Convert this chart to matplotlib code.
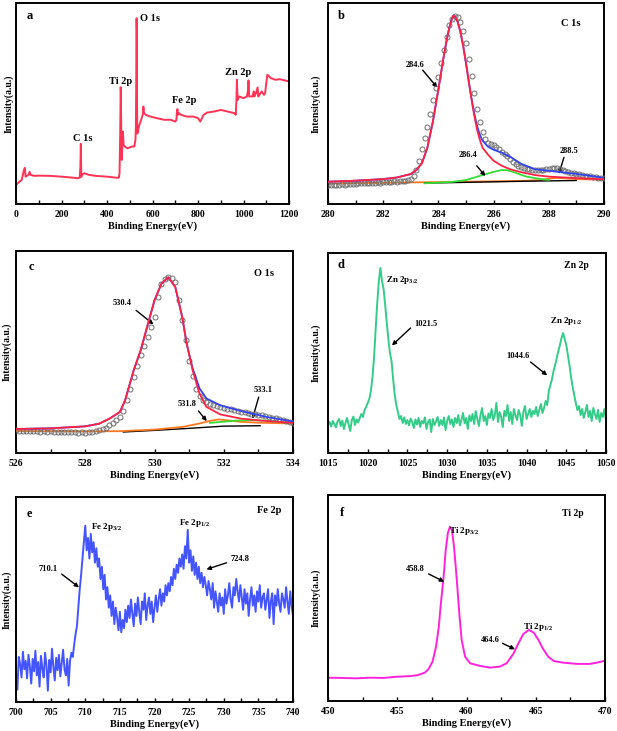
import numpy as np
import matplotlib
matplotlib.use("Agg")
import matplotlib.pyplot as plt
from matplotlib.ticker import MultipleLocator

plt.rcParams['font.family'] = ['Liberation Serif', 'DejaVu Serif']
plt.rcParams['font.weight'] = 'bold'
plt.rcParams['mathtext.fontset'] = 'custom'
plt.rcParams['mathtext.rm'] = 'Liberation Serif:bold'
plt.rcParams['mathtext.bf'] = 'Liberation Serif:bold'

# ---------------- (a) survey ----------------
survey_be = [0, 10, 25, 35, 39, 42, 55, 60, 64, 80, 100, 150, 200, 250, 270, 280, 283, 285, 287, 290,
             300, 320, 350, 400, 440, 452, 455, 458, 459, 460, 461, 463, 465, 467, 470, 473, 478, 490,
             510, 520, 525, 527, 529, 530, 531, 532, 533, 536, 540, 550, 557, 560, 563, 570, 590, 620,
             650, 680, 700, 705, 708, 710, 712, 716, 725, 750, 780, 800, 810, 825, 840, 870, 900, 930,
             960, 966, 969, 971, 973, 975, 980, 1000, 1015, 1020, 1022, 1025, 1040, 1045, 1048, 1055,
             1062, 1065, 1070, 1080, 1090, 1095, 1100, 1105, 1110, 1120, 1140, 1160, 1180, 1200]
survey_int = [9.5, 10.6, 12.0, 17.0, 18.0, 13.6, 14.5, 16.0, 14.5, 14.0, 14.1, 14.0, 13.6, 13.1, 12.8,
              13.1, 18.6, 29.9, 13.5, 14.5, 15.3, 14.5, 14.0, 13.6, 13.1, 13.1, 15.3, 35.0, 45.0, 58.1,
              56.0, 31.9, 21.9, 28.6, 36.0, 29.4, 28.6, 27.7, 28.6, 28.6, 31.9, 38.5, 68.4, 92.4, 85.0,
              51.8, 35.0, 35.8, 38.5, 41.9, 44.4, 48.5, 45.2, 44.4, 43.5, 42.7, 41.9, 41.9, 41.0, 41.9,
              46.8, 47.2, 44.4, 45.2, 44.4, 43.5, 43.5, 42.7, 41.0, 44.4, 45.5, 46.0, 46.8, 46.0, 45.2,
              44.4, 51.8, 61.8, 55.1, 51.8, 53.5, 52.7, 53.5, 56.8, 61.5, 53.5, 53.5, 56.0, 53.5, 55.1,
              58.0, 53.5, 54.3, 56.0, 54.3, 55.1, 60.0, 64.3, 63.8, 62.6, 61.8, 62.1, 61.5, 61.0]

# ---------------- (b) C 1s ----------------
c1s_start, c1s_stop = 280.0, 290.0
c1s_raw = [9.5, 9.3, 9.4, 9.6, 9.5, 9.8, 9.7, 9.9, 10.0, 10.1,
           10.0, 10.2, 10.3, 10.2, 10.4, 10.5, 10.4, 10.6, 10.7, 10.6,
           10.8, 10.9, 10.8, 11.0, 11.2, 11.1, 11.3, 11.5, 11.6, 11.8,
           12.5, 14.0, 16.9, 21.5, 27.5, 33.0, 38.5, 45.0, 51.5, 57.5,
           63.0, 70.0, 76.5, 83.0, 89.0, 92.0, 93.5, 93.0, 90.5, 86.0,
           80.0, 72.0, 63.5, 55.0, 47.5, 41.0, 36.0, 32.5, 30.5, 29.8,
           29.5, 28.5, 27.3, 26.0, 25.0, 23.7, 22.2, 20.8, 19.8, 19.0,
           18.4, 17.9, 17.5, 17.2, 17.0, 16.9, 16.8, 16.9, 17.1, 17.3,
           17.5, 17.7, 17.9, 17.8, 17.4, 16.9, 16.4, 16.0, 15.6, 15.3,
           15.0, 14.7, 14.4, 14.1, 13.9, 13.7, 13.5, 13.3, 13.1, 12.9,
           12.7]
c1s_fit_be = [280, 281, 282, 282.5, 283, 283.2, 283.4, 283.6, 283.8, 284.0, 284.1, 284.2, 284.3, 284.4,
              284.5, 284.55, 284.6, 284.7, 284.8, 284.9, 285.0, 285.1, 285.2, 285.3, 285.4, 285.5,
              285.6, 285.8, 286.0, 286.3, 286.6, 287.0, 287.5, 288.0, 289.0, 290.0]
c1s_main = [11.1, 11.6, 12.4, 13.2, 14.9, 16.9, 20.2, 28.0, 41.0, 57.0, 65.5, 74.0, 81.5, 88.0,
            92.5, 93.8, 93.4, 90.5, 85.5, 78.5, 70.0, 61.0, 52.0, 44.0, 37.0, 32.0,
            28.0, 24.5, 21.5, 19.0, 17.3, 15.8, 14.4, 13.6, 12.9, 12.3]
c1s_env = [11.1, 11.6, 12.4, 13.2, 14.9, 16.9, 20.2, 28.0, 41.0, 57.0, 65.5, 74.0, 81.5, 88.0,
           92.5, 93.8, 93.4, 90.5, 85.5, 78.5, 70.0, 61.0, 52.5, 45.0, 39.0, 34.5,
           31.5, 28.5, 27.0, 25.5, 23.5, 20.0, 17.3, 16.5, 15.0, 13.0]
c1s_c2_be = [283.5, 284.5, 285.0, 285.6, 286.0, 286.3, 286.5, 286.7, 287.0, 287.2, 287.7, 288.0]
c1s_c2 = [10.3, 11.0, 11.9, 14.4, 16.0, 16.9, 16.8, 16.0, 14.5, 13.6, 12.4, 12.0]
c1s_c3_be = [280, 284, 287, 287.7, 288.0, 288.3, 288.7, 289.2, 290]
c1s_c3 = [10.2, 10.9, 11.5, 11.9, 12.6, 13.0, 12.7, 12.3, 12.1]
c1s_bg_be = [283.5, 285.5, 287.0, 289.0]
c1s_bg = [10.4, 10.9, 11.3, 11.7]

# ---------------- (c) O 1s ----------------
o1s_start, o1s_stop = 526.0, 534.0
o1s_raw = [11.2, 11.0, 10.8, 11.0, 10.9, 10.7, 10.8, 10.6, 10.7, 10.5,
           10.7, 10.5, 10.4, 10.6, 10.3, 10.4, 10.2, 10.3, 10.1, 10.2,
           10.0, 10.2, 10.4, 10.7, 11.2, 11.8, 12.6, 13.7, 15.0, 16.3,
           17.8, 21.0, 26.0, 31.5, 37.6, 43.0, 48.3, 53.0, 57.4, 62.5,
           67.3, 77.2, 83.8, 86.0, 87.0, 86.5, 84.6, 75.6, 66.0, 55.8,
           45.5, 38.0, 31.5, 28.0, 26.3, 25.2, 24.5, 23.8, 23.3, 22.8,
           22.4, 22.0, 21.6, 21.1, 20.7, 20.4, 20.1, 19.8, 19.5, 19.1,
           18.9, 18.6, 18.3, 18.0, 17.5, 17.2, 16.8, 16.3, 15.8, 15.3,
           15.0]
o1s_fit_be = [526, 527, 528, 528.4, 528.7, 529.0, 529.15, 529.4, 529.6, 529.8, 530.0, 530.2, 530.4,
              530.6, 530.8, 530.93, 531.1, 531.3, 531.5, 531.9, 532.5, 533.25, 534]
o1s_main = [11.9, 12.2, 13.2, 14.5, 17.0, 20.3, 26.0, 41.0, 50.8, 63.2, 75.6, 83.8, 87.0,
            82.2, 67.3, 54.1, 41.0, 29.4, 22.8, 19.1, 17.0, 15.8, 14.9]
o1s_env = [11.9, 12.2, 13.2, 14.5, 17.0, 20.3, 26.0, 41.0, 50.8, 63.2, 75.6, 83.8, 87.0,
           82.2, 67.3, 54.1, 42.0, 32.0, 27.0, 23.6, 20.8, 17.8, 15.6]
o1s_c2_be = [526, 527, 528, 529, 530, 530.8, 531.3, 531.6, 531.85, 532.1, 532.5, 533, 534]
o1s_c2 = [10.9, 10.8, 10.7, 10.8, 11.6, 12.9, 14.6, 15.9, 16.6, 16.2, 15.4, 15.0, 14.6]
o1s_c3_be = [531.6, 532.0, 532.4, 532.8, 533.2, 533.6, 534.0]
o1s_c3 = [14.9, 15.5, 16.1, 16.3, 16.0, 15.4, 14.9]
o1s_bg_be = [529.1, 530.0, 531.0, 532.0, 533.05]
o1s_bg = [10.4, 11.2, 12.2, 13.3, 13.5]

# ---------------- (d) Zn 2p ----------------
zn_start, zn_stop = 1015.0, 1050.0
zn_int = [14.0, 15.5, 13.2, 16.0, 14.5, 12.8, 15.8, 17.0, 13.5, 16.2,
          12.0, 15.0, 17.5, 14.2, 11.0, 16.5, 18.2, 14.0, 16.8, 15.2,
          17.5, 19.5, 18.0, 21.5, 23.0, 25.0, 27.0, 31.0, 38.0, 48.0,
          62.0, 75.0, 86.0, 92.5, 86.0, 82.0, 74.0, 65.0, 57.0, 50.0,
          46.0, 37.0, 29.0, 24.0, 20.5, 17.0, 18.5, 15.0, 17.8, 14.5,
          16.5, 13.8, 17.2, 15.5, 12.5, 16.8, 14.2, 17.5, 13.0, 16.0,
          14.8, 17.8, 12.0, 15.5, 16.8, 10.5, 17.0, 14.0, 15.8, 18.0,
          13.5, 16.5, 14.0, 17.8, 11.5, 16.0, 18.5, 14.5, 16.8, 13.0,
          17.5, 15.0, 19.0, 13.8, 16.5, 20.0, 14.8, 17.5, 12.0, 18.8,
          16.0, 19.5, 14.5, 21.0, 17.0, 13.5, 19.0, 22.5, 16.0, 18.5,
          14.0, 19.8, 17.5, 22.0, 16.5, 19.0, 25.0, 15.5, 20.5, 18.0,
          13.0, 21.0, 18.5, 24.0, 16.0, 20.5, 14.5, 22.0, 18.8, 16.5,
          21.5, 19.0, 13.5, 20.5, 23.5, 17.0, 19.5, 22.0, 18.0, 21.0,
          19.5, 23.0, 18.5, 21.5, 24.5, 20.0, 22.5, 26.0, 24.0, 31.0,
          34.0, 37.0, 41.0, 44.0, 47.5, 51.0, 54.0, 57.5, 60.0, 57.0,
          54.0, 49.0, 44.0, 38.0, 33.0, 29.0, 25.0, 21.5, 23.5, 19.0,
          22.0, 17.5, 20.5, 24.0, 18.0, 21.0, 16.0, 22.5, 19.5, 17.0,
          21.5, 15.5, 20.0, 18.0, 22.0, 16.5]

# ---------------- (e) Fe 2p ----------------
fe_start, fe_stop = 700.0, 740.0
fe_int = [14.0, 6.0, 22.0, 18.5, 12.0, 24.5, 16.0, 20.0, 11.5, 23.0,
          17.5, 9.0, 21.0, 15.0, 25.0, 13.0, 19.5, 7.5, 22.5, 16.5,
          12.0, 24.0, 18.0, 5.5, 20.5, 14.5, 26.0, 17.0, 10.5, 21.5,
          15.5, 23.0, 12.5, 19.0, 25.5, 16.0, 13.0, 21.0, 8.0, 20.0,
          24.0, 22.0, 28.0, 33.0, 37.0, 46.0, 55.0, 62.0, 70.0, 78.0,
          86.0, 74.0, 80.0, 70.0, 82.0, 73.0, 78.0, 68.0, 75.0, 66.0,
          70.0, 60.0, 66.0, 55.0, 62.0, 50.0, 56.0, 46.0, 52.0, 42.0,
          49.0, 38.0, 46.0, 41.0, 35.0, 44.0, 34.0, 40.0, 36.0, 45.0,
          39.0, 47.0, 41.0, 50.0, 43.0, 37.0, 48.0, 42.0, 51.0, 44.0,
          38.0, 49.0, 45.0, 53.0, 40.0, 47.0, 51.0, 43.0, 49.0, 39.0,
          46.0, 52.0, 44.0, 50.0, 55.0, 47.0, 53.0, 49.0, 57.0, 52.0,
          58.0, 54.0, 61.0, 57.0, 65.0, 60.0, 67.0, 63.0, 70.0, 66.0,
          72.0, 65.0, 76.0, 70.0, 84.0, 68.0, 74.0, 64.0, 71.0, 62.0,
          68.0, 60.0, 66.0, 58.0, 63.0, 56.0, 61.0, 57.0, 52.0, 59.0,
          55.0, 50.0, 58.0, 46.0, 54.0, 49.0, 44.0, 53.0, 47.0, 51.0,
          43.0, 55.0, 48.0, 52.0, 58.0, 50.0, 46.0, 56.0, 52.0, 60.0,
          54.0, 49.0, 57.0, 51.0, 45.0, 55.0, 48.0, 53.0, 42.0, 50.0,
          56.0, 47.0, 52.0, 44.0, 54.0, 49.0, 57.0, 46.0, 51.0, 53.0,
          45.0, 50.0, 55.0, 41.0, 49.0, 53.0, 38.0, 52.0, 47.0, 55.0,
          48.0, 44.0, 53.0, 50.0, 46.0, 56.0, 49.0, 43.0, 54.0, 47.0,
          42.0]

# ---------------- (f) Ti 2p ----------------
ti_be = [450, 451, 452, 453, 454, 455, 456, 456.5, 457, 457.25, 457.55, 457.8, 458.0, 458.15, 458.35,
         458.5, 458.65, 458.8, 458.95, 459.1, 459.3, 459.5, 459.65, 459.9, 460.26, 461.0, 461.7,
         462.4, 462.9, 463.4, 463.75, 464.1, 464.5, 464.85, 465.2, 465.5, 465.9, 466.3, 467.0,
         468.0, 468.9, 469.4, 469.9]
ti_int = [11.3, 11.2, 11.0, 11.3, 11.2, 11.8, 12.1, 12.6, 13.8, 15.4, 19.1, 26.4, 36.0, 47.4, 60.4,
          73.3, 81.4, 84.6, 83.0, 74.9, 58.8, 40.9, 29.6, 21.5, 18.3, 17.0, 16.2,
          16.7, 18.3, 23.1, 28.0, 32.5, 34.5, 33.2, 29.6, 25.6, 21.5, 19.4, 18.6,
          18.0, 18.0, 18.6, 19.4]

# ---------------- layout ----------------
W, H = 617, 731
fig = plt.figure(figsize=(W / 100, H / 100), dpi=100)


def make_ax(l, r, t, b):
    return fig.add_axes([l / W, 1 - b / H, (r - l) / W, (b - t) / H])


TICKFS = 7
LABFS = 7.5
PEAKFS = 6.0


def style(ax, xmin, xmax, major, minor, ylabelpad=3):
    ax.set_xlim(xmin, xmax)
    ax.set_ylim(0, 100)
    ax.set_yticks([])
    ax.xaxis.set_major_locator(MultipleLocator(major))
    ax.xaxis.set_minor_locator(MultipleLocator(minor))
    ax.tick_params(axis='x', which='both', direction='in', length=3, width=1.0, pad=4,
                   labelsize=TICKFS, top=False)
    for lab in ax.get_xticklabels():
        lab.set_fontweight('bold')
    for s in ax.spines.values():
        s.set_linewidth(1.4)
    ax.set_xlabel('Binding Energy(eV)', fontsize=LABFS, fontweight='bold', labelpad=2)
    ax.set_ylabel('Intensity(a.u.)', fontsize=7, fontweight='bold', labelpad=ylabelpad)


def arrow(ax, txt, tx, ty, x0, y0, x1, y1, ha='center'):
    ax.text(tx, ty, txt, fontsize=PEAKFS, fontweight='bold', ha=ha, va='center')
    ax.annotate('', xy=(x1, y1), xytext=(x0, y0),
                arrowprops=dict(arrowstyle='-|>', color='black', lw=1.0, mutation_scale=6,
                                shrinkA=0, shrinkB=0))


# (a)
ax = make_ax(16, 289, 3, 204)
ax.plot(survey_be, survey_int, color='#ff3355', lw=1.4)
style(ax, 0, 1200, 200, 100, ylabelpad=2)
ax.text(61, 93.7, 'a', fontsize=9, fontweight='bold', ha='center', va='center')
for t, x, y in [('C 1s', 294, 32.4), ('Ti 2p', 458, 61.1), ('O 1s', 588, 92.2),
                ('Fe 2p', 739, 51.5), ('Zn 2p', 976, 65.6)]:
    ax.text(x, y, t, fontsize=7.5, fontweight='bold', ha='center', va='center')

# (b)
ax = make_ax(328, 604, 3, 204)
xb = np.linspace(c1s_start, c1s_stop, len(c1s_raw))
ax.plot(c1s_c3_be, c1s_c3, color='#ff7722', lw=1.3, zorder=2)
ax.plot(c1s_bg_be, c1s_bg, color='black', lw=1.0, zorder=2)
ax.plot(c1s_c2_be, c1s_c2, color='#33dd33', lw=1.3, zorder=3)
ax.plot(xb, c1s_raw, 'o', mfc='none', mec='#707070', ms=3.6, mew=0.7, zorder=4)
ax.plot(c1s_fit_be, c1s_env, color='#3344ee', lw=1.3, zorder=5)
ax.plot(c1s_fit_be, c1s_main, color='#ff2244', lw=1.3, zorder=6)
style(ax, 280, 290, 2, 1, ylabelpad=5)
ax.text(280.48, 93.5, 'b', fontsize=9, fontweight='bold', ha='center', va='center')
ax.text(288.8, 90, 'C 1s', fontsize=7.5, fontweight='bold', ha='center', va='center')
arrow(ax, '284.6', 283.15, 69.0, 283.43, 66.6, 283.96, 57.9)
arrow(ax, '286.4', 285.09, 24.3, 285.39, 19.0, 285.70, 13.9)
arrow(ax, '288.5', 288.73, 26.5, 288.55, 23.2, 288.36, 14.9)

# (c)
ax = make_ax(16, 293, 251, 453)
xc = np.linspace(o1s_start, o1s_stop, len(o1s_raw))
ax.plot(o1s_bg_be, o1s_bg, color='black', lw=1.0, zorder=2)
ax.plot(o1s_c2_be, o1s_c2, color='#ff7722', lw=1.3, zorder=3)
ax.plot(o1s_c3_be, o1s_c3, color='#33dd33', lw=1.3, zorder=3)
ax.plot(xc, o1s_raw, 'o', mfc='none', mec='#707070', ms=3.6, mew=0.7, zorder=4)
ax.plot(o1s_fit_be, o1s_env, color='#3344ee', lw=1.3, zorder=5)
ax.plot(o1s_fit_be, o1s_main, color='#ff2244', lw=1.3, zorder=6)
style(ax, 526, 534, 2, 1, ylabelpad=3)
ax.text(526.45, 92.1, 'c', fontsize=9, fontweight='bold', ha='center', va='center')
ax.text(533.15, 89.1, 'O 1s', fontsize=7.5, fontweight='bold', ha='center', va='center')
arrow(ax, '530.4', 529.06, 74.3, 529.47, 70.6, 529.97, 63.7)
arrow(ax, '531.8', 530.93, 24.4, 531.27, 20.8, 531.51, 15.8)
arrow(ax, '533.1', 533.15, 31.4, 533.01, 27.7, 532.83, 17.0)

# (d)
ax = make_ax(328, 606, 253, 453)
xd = np.linspace(zn_start, zn_stop, len(zn_int))
ax.plot(xd, zn_int, color='#33cc88', lw=1.4)
style(ax, 1015, 1050, 5, 2.5, ylabelpad=5)
ax.text(1016.6, 93.8, 'd', fontsize=9, fontweight='bold', ha='center', va='center')
ax.text(1046.3, 93.8, 'Zn 2p', fontsize=7, fontweight='bold', ha='center', va='center')
ax.text(1022.35, 86.7, r'Zn 2p$_{\mathbf{3/2}}$', fontsize=6.5, fontweight='bold', ha='left', va='center')
ax.text(1043.0, 66.0, r'Zn 2p$_{\mathbf{1/2}}$', fontsize=6.5, fontweight='bold', ha='left', va='center')
arrow(ax, '1021.5', 1027.3, 64.3, 1025.4, 62.5, 1023.05, 53.8)
arrow(ax, '1044.6', 1038.9, 48.3, 1040.5, 45.5, 1042.6, 38.8)

# (e)
ax = make_ax(16, 293, 497, 702)
xe = np.linspace(fe_start, fe_stop, len(fe_int))
ax.plot(xe, fe_int, color='#4455ff', lw=1.4)
style(ax, 700, 740, 5, 2.5, ylabelpad=3)
ax.text(701.9, 91.6, 'e', fontsize=9, fontweight='bold', ha='center', va='center')
ax.text(736.6, 93.2, 'Fe 2p', fontsize=7.5, fontweight='bold', ha='center', va='center')
ax.text(710.9, 85.4, r'Fe 2p$_{\mathbf{3/2}}$', fontsize=6.5, fontweight='bold', ha='left', va='center')
ax.text(723.6, 87.4, r'Fe 2p$_{\mathbf{1/2}}$', fontsize=6.5, fontweight='bold', ha='left', va='center')
arrow(ax, '710.1', 704.6, 64.7, 706.6, 62.4, 709.1, 55.9)
arrow(ax, '724.8', 732.4, 69.7, 730.4, 67.9, 727.5, 64.7)

# (f)
ax = make_ax(328, 605, 495, 701)
ax.plot(ti_be, ti_int, color='#ff22dd', lw=1.4)
style(ax, 450, 470, 5, 2.5, ylabelpad=5)
ax.text(451.0, 91.1, 'f', fontsize=9, fontweight='bold', ha='center', va='center')
ax.text(467.7, 90.8, 'Ti 2p', fontsize=7, fontweight='bold', ha='center', va='center')
ax.text(458.75, 82.5, r'Ti 2p$_{\mathbf{3/2}}$', fontsize=6.5, fontweight='bold', ha='left', va='center')
ax.text(464.06, 36.1, r'Ti 2p$_{\mathbf{1/2}}$', fontsize=6.5, fontweight='bold', ha='left', va='center')
arrow(ax, '458.8', 456.3, 63.9, 457.26, 61.7, 458.39, 57.9)
arrow(ax, '464.6', 461.7, 29.6, 462.6, 28.0, 463.5, 25.1)

fig.savefig('out.png', dpi=100)
